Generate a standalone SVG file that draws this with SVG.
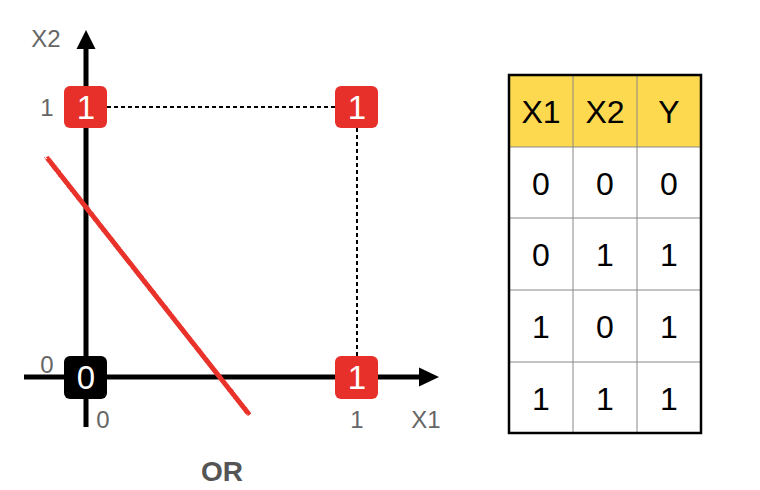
<svg xmlns="http://www.w3.org/2000/svg" width="760" height="490" viewBox="0 0 760 490">
<style>
.ax{stroke:#000;stroke-width:5;fill:none}
.dash{stroke:#000;stroke-width:2;stroke-dasharray:4 3;fill:none}
.lbl{font-family:"Liberation Sans",Arial,sans-serif;font-size:24px;fill:#666;text-anchor:middle}
.box{rx:6;ry:6}
.bt{font-family:"Liberation Sans",Arial,sans-serif;font-size:33px;fill:#fff;text-anchor:middle}
.tt{font-family:"Liberation Sans",Arial,sans-serif;font-size:32px;fill:#000;text-anchor:middle}
.grid{stroke:#888;stroke-width:1}
</style>
<defs>
<filter id="rough" x="-10%" y="-10%" width="120%" height="120%">
<feTurbulence type="fractalNoise" baseFrequency="0.8" numOctaves="2" seed="3"/>
<feDisplacementMap in="SourceGraphic" scale="3"/>
</filter>
</defs>
<rect width="760" height="490" fill="#fff"/>
<g id="connectors">
<line class="dash" x1="107" y1="107" x2="335" y2="107"/>
<line class="dash" x1="357" y1="128" x2="357" y2="356"/>
<line class="ax" x1="86" y1="427" x2="86" y2="46"/>
<polygon points="86,30 76.5,49 95.5,49" fill="#000"/>
<line class="ax" x1="24" y1="377" x2="421" y2="377"/>
<polygon points="439,377 419,367.5 419,386.5" fill="#000"/>
<line x1="48" y1="159" x2="248" y2="413" stroke="#e8302a" stroke-width="5" stroke-linecap="round" filter="url(#rough)"/>
</g>
<g id="labels">
<text class="lbl" x="46" y="47">X2</text>
<text class="lbl" x="47" y="116">1</text>
<text class="lbl" x="47" y="373">0</text>
<text class="lbl" x="103" y="428">0</text>
<text class="lbl" x="357" y="428">1</text>
<text class="lbl" x="426" y="428">X1</text>
<text x="222" y="481" font-family="Liberation Sans,Arial,sans-serif" font-size="28" font-weight="bold" fill="#555" text-anchor="middle">OR</text>
</g>
<g id="p01"><rect class="box" x="64" y="86" width="43" height="42" fill="#e8302a"/><text class="bt" x="86" y="119">1</text></g>
<g id="p11"><rect class="box" x="335" y="86" width="43" height="42" fill="#e8302a"/><text class="bt" x="357" y="119">1</text></g>
<g id="p00"><rect class="box" x="64" y="356" width="43" height="43" fill="#000"/><text class="bt" x="86" y="389">0</text></g>
<g id="p10"><rect class="box" x="335" y="356" width="43" height="43" fill="#e8302a"/><text class="bt" x="357" y="389">1</text></g>
<g id="table">
<rect x="509" y="75" width="192" height="72" fill="#fdd94f"/>
<line class="grid" x1="573" y1="75" x2="573" y2="433"/>
<line class="grid" x1="637" y1="75" x2="637" y2="433"/>
<line class="grid" x1="509" y1="218" x2="701" y2="218"/>
<line class="grid" x1="509" y1="290" x2="701" y2="290"/>
<line class="grid" x1="509" y1="362" x2="701" y2="362"/>
<line class="grid" x1="509" y1="147" x2="701" y2="147"/>
<rect x="509" y="75" width="192" height="358" fill="none" stroke="#000" stroke-width="2.5"/>
<text class="tt" x="541" y="123">X1</text><text class="tt" x="605" y="123">X2</text><text class="tt" x="669" y="123">Y</text>
<text class="tt" x="541" y="195">0</text><text class="tt" x="605" y="195">0</text><text class="tt" x="669" y="195">0</text>
<text class="tt" x="541" y="266">0</text><text class="tt" x="605" y="266">1</text><text class="tt" x="669" y="266">1</text>
<text class="tt" x="541" y="338">1</text><text class="tt" x="605" y="338">0</text><text class="tt" x="669" y="338">1</text>
<text class="tt" x="541" y="410">1</text><text class="tt" x="605" y="410">1</text><text class="tt" x="669" y="410">1</text>
</g>
</svg>
